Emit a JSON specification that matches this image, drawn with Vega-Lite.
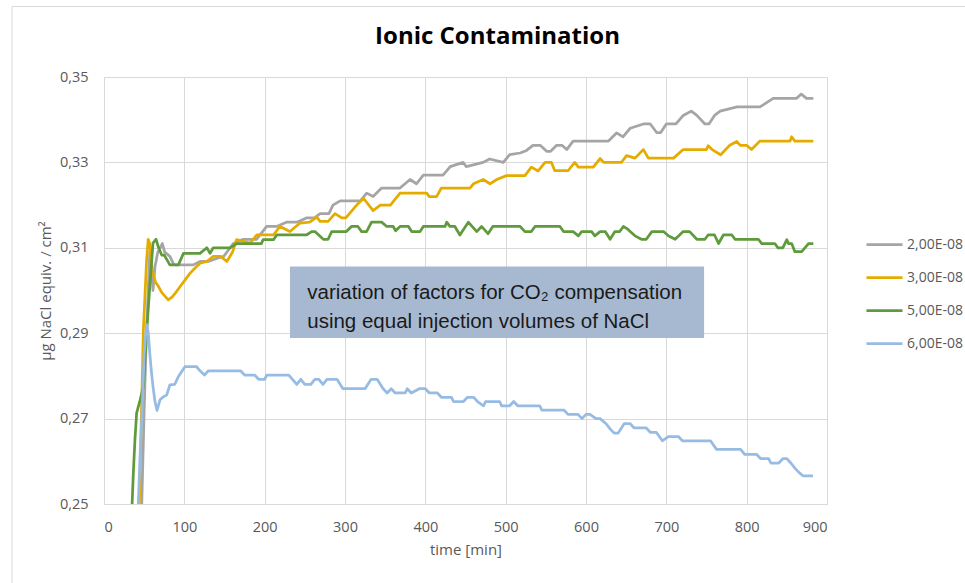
{
"$schema": "https://vega.github.io/schema/vega-lite/v6.json",
"width": 723, "height": 427,
"autosize": {"type": "none"},
"padding": {"left": 104, "top": 77, "right": 138, "bottom": 79},
"background": "white",
"config": {"font": "Open Sans", "view": {"stroke": null}},
"title": {"text": "Ionic Contamination", "font": "Open Sans", "fontSize": 24, "fontWeight": "bold", "color": "#000000", "anchor": "middle", "frame": "group", "dx": 32, "offset": -43},
"datasets": {
"series": [
{"t":44,"v":0.24,"s":"2,00E-08"},{"t":47,"v":0.25,"s":"2,00E-08"},{"t":50,"v":0.272,"s":"2,00E-08"},{"t":53,"v":0.291,"s":"2,00E-08"},{"t":57,"v":0.309,"s":"2,00E-08"},{"t":59,"v":0.306,"s":"2,00E-08"},{"t":61,"v":0.300,"s":"2,00E-08"},{"t":63.5,"v":0.3056,"s":"2,00E-08"},{"t":67,"v":0.309,"s":"2,00E-08"},{"t":72.6,"v":0.311,"s":"2,00E-08"},{"t":75.5,"v":0.309,"s":"2,00E-08"},{"t":82,"v":0.308,"s":"2,00E-08"},{"t":86,"v":0.3064,"s":"2,00E-08"},{"t":88,"v":0.306,"s":"2,00E-08"},{"t":111,"v":0.306,"s":"2,00E-08"},{"t":119.5,"v":0.3068,"s":"2,00E-08"},{"t":130,"v":0.3068,"s":"2,00E-08"},{"t":140,"v":0.3075,"s":"2,00E-08"},{"t":149,"v":0.308,"s":"2,00E-08"},{"t":161,"v":0.311,"s":"2,00E-08"},{"t":173,"v":0.312,"s":"2,00E-08"},{"t":190,"v":0.312,"s":"2,00E-08"},{"t":202.5,"v":0.315,"s":"2,00E-08"},{"t":215,"v":0.315,"s":"2,00E-08"},{"t":227,"v":0.316,"s":"2,00E-08"},{"t":240,"v":0.316,"s":"2,00E-08"},{"t":252,"v":0.317,"s":"2,00E-08"},{"t":262,"v":0.317,"s":"2,00E-08"},{"t":269,"v":0.318,"s":"2,00E-08"},{"t":280,"v":0.318,"s":"2,00E-08"},{"t":285,"v":0.320,"s":"2,00E-08"},{"t":294,"v":0.321,"s":"2,00E-08"},{"t":319,"v":0.321,"s":"2,00E-08"},{"t":327,"v":0.3228,"s":"2,00E-08"},{"t":335,"v":0.322,"s":"2,00E-08"},{"t":345.6,"v":0.324,"s":"2,00E-08"},{"t":368.5,"v":0.324,"s":"2,00E-08"},{"t":381,"v":0.326,"s":"2,00E-08"},{"t":389,"v":0.325,"s":"2,00E-08"},{"t":397.5,"v":0.327,"s":"2,00E-08"},{"t":422,"v":0.327,"s":"2,00E-08"},{"t":431,"v":0.329,"s":"2,00E-08"},{"t":447,"v":0.330,"s":"2,00E-08"},{"t":451,"v":0.329,"s":"2,00E-08"},{"t":472,"v":0.330,"s":"2,00E-08"},{"t":480,"v":0.3308,"s":"2,00E-08"},{"t":497,"v":0.330,"s":"2,00E-08"},{"t":505,"v":0.3318,"s":"2,00E-08"},{"t":518,"v":0.3322,"s":"2,00E-08"},{"t":526,"v":0.3328,"s":"2,00E-08"},{"t":534,"v":0.334,"s":"2,00E-08"},{"t":543,"v":0.334,"s":"2,00E-08"},{"t":551,"v":0.3326,"s":"2,00E-08"},{"t":556,"v":0.3326,"s":"2,00E-08"},{"t":563.5,"v":0.334,"s":"2,00E-08"},{"t":570,"v":0.334,"s":"2,00E-08"},{"t":576,"v":0.333,"s":"2,00E-08"},{"t":584,"v":0.335,"s":"2,00E-08"},{"t":628,"v":0.335,"s":"2,00E-08"},{"t":638,"v":0.3369,"s":"2,00E-08"},{"t":646,"v":0.336,"s":"2,00E-08"},{"t":655,"v":0.338,"s":"2,00E-08"},{"t":671.5,"v":0.339,"s":"2,00E-08"},{"t":680,"v":0.339,"s":"2,00E-08"},{"t":688,"v":0.337,"s":"2,00E-08"},{"t":693,"v":0.337,"s":"2,00E-08"},{"t":700,"v":0.339,"s":"2,00E-08"},{"t":712,"v":0.339,"s":"2,00E-08"},{"t":721,"v":0.341,"s":"2,00E-08"},{"t":731,"v":0.342,"s":"2,00E-08"},{"t":738,"v":0.341,"s":"2,00E-08"},{"t":748,"v":0.339,"s":"2,00E-08"},{"t":753,"v":0.339,"s":"2,00E-08"},{"t":760,"v":0.341,"s":"2,00E-08"},{"t":767,"v":0.342,"s":"2,00E-08"},{"t":788,"v":0.343,"s":"2,00E-08"},{"t":816.6,"v":0.343,"s":"2,00E-08"},{"t":833,"v":0.345,"s":"2,00E-08"},{"t":862,"v":0.345,"s":"2,00E-08"},{"t":868,"v":0.346,"s":"2,00E-08"},{"t":874.5,"v":0.345,"s":"2,00E-08"},{"t":883,"v":0.345,"s":"2,00E-08"},

{"t":42,"v":0.24,"s":"3,00E-08"},{"t":44,"v":0.25,"s":"3,00E-08"},{"t":49,"v":0.2907,"s":"3,00E-08"},{"t":53,"v":0.307,"s":"3,00E-08"},{"t":55,"v":0.312,"s":"3,00E-08"},{"t":57,"v":0.311,"s":"3,00E-08"},{"t":60,"v":0.305,"s":"3,00E-08"},{"t":64,"v":0.302,"s":"3,00E-08"},{"t":67.6,"v":0.301,"s":"3,00E-08"},{"t":72,"v":0.2995,"s":"3,00E-08"},{"t":80,"v":0.2978,"s":"3,00E-08"},{"t":85,"v":0.2985,"s":"3,00E-08"},{"t":90.5,"v":0.2998,"s":"3,00E-08"},{"t":95,"v":0.301,"s":"3,00E-08"},{"t":101,"v":0.3025,"s":"3,00E-08"},{"t":107,"v":0.304,"s":"3,00E-08"},{"t":113,"v":0.3052,"s":"3,00E-08"},{"t":119.5,"v":0.3064,"s":"3,00E-08"},{"t":128,"v":0.3068,"s":"3,00E-08"},{"t":136,"v":0.308,"s":"3,00E-08"},{"t":145,"v":0.308,"s":"3,00E-08"},{"t":153,"v":0.3068,"s":"3,00E-08"},{"t":160,"v":0.309,"s":"3,00E-08"},{"t":165,"v":0.3119,"s":"3,00E-08"},{"t":182,"v":0.3111,"s":"3,00E-08"},{"t":190,"v":0.313,"s":"3,00E-08"},{"t":211,"v":0.313,"s":"3,00E-08"},{"t":219,"v":0.315,"s":"3,00E-08"},{"t":231.5,"v":0.3138,"s":"3,00E-08"},{"t":244,"v":0.3158,"s":"3,00E-08"},{"t":256,"v":0.316,"s":"3,00E-08"},{"t":265,"v":0.3172,"s":"3,00E-08"},{"t":269,"v":0.3162,"s":"3,00E-08"},{"t":279,"v":0.3162,"s":"3,00E-08"},{"t":287.5,"v":0.318,"s":"3,00E-08"},{"t":296,"v":0.317,"s":"3,00E-08"},{"t":301,"v":0.317,"s":"3,00E-08"},{"t":314.5,"v":0.320,"s":"3,00E-08"},{"t":323,"v":0.3216,"s":"3,00E-08"},{"t":335,"v":0.3187,"s":"3,00E-08"},{"t":344,"v":0.320,"s":"3,00E-08"},{"t":356.5,"v":0.320,"s":"3,00E-08"},{"t":368.5,"v":0.3228,"s":"3,00E-08"},{"t":401.7,"v":0.3228,"s":"3,00E-08"},{"t":405,"v":0.322,"s":"3,00E-08"},{"t":414,"v":0.322,"s":"3,00E-08"},{"t":420,"v":0.324,"s":"3,00E-08"},{"t":455.6,"v":0.324,"s":"3,00E-08"},{"t":460,"v":0.325,"s":"3,00E-08"},{"t":472,"v":0.326,"s":"3,00E-08"},{"t":480.5,"v":0.325,"s":"3,00E-08"},{"t":489,"v":0.326,"s":"3,00E-08"},{"t":501,"v":0.3269,"s":"3,00E-08"},{"t":524,"v":0.3269,"s":"3,00E-08"},{"t":532,"v":0.3289,"s":"3,00E-08"},{"t":540.5,"v":0.328,"s":"3,00E-08"},{"t":549,"v":0.330,"s":"3,00E-08"},{"t":557,"v":0.330,"s":"3,00E-08"},{"t":561,"v":0.3281,"s":"3,00E-08"},{"t":578,"v":0.3281,"s":"3,00E-08"},{"t":586,"v":0.330,"s":"3,00E-08"},{"t":590.5,"v":0.3289,"s":"3,00E-08"},{"t":609,"v":0.3289,"s":"3,00E-08"},{"t":617.5,"v":0.3309,"s":"3,00E-08"},{"t":622,"v":0.330,"s":"3,00E-08"},{"t":644,"v":0.330,"s":"3,00E-08"},{"t":650.6,"v":0.3316,"s":"3,00E-08"},{"t":661,"v":0.331,"s":"3,00E-08"},{"t":671.5,"v":0.333,"s":"3,00E-08"},{"t":677.6,"v":0.331,"s":"3,00E-08"},{"t":709,"v":0.331,"s":"3,00E-08"},{"t":721,"v":0.333,"s":"3,00E-08"},{"t":750,"v":0.333,"s":"3,00E-08"},{"t":752,"v":0.3339,"s":"3,00E-08"},{"t":757,"v":0.333,"s":"3,00E-08"},{"t":767.6,"v":0.3318,"s":"3,00E-08"},{"t":779,"v":0.334,"s":"3,00E-08"},{"t":787.6,"v":0.3349,"s":"3,00E-08"},{"t":792,"v":0.334,"s":"3,00E-08"},{"t":800,"v":0.334,"s":"3,00E-08"},{"t":806,"v":0.333,"s":"3,00E-08"},{"t":816.6,"v":0.335,"s":"3,00E-08"},{"t":854,"v":0.335,"s":"3,00E-08"},{"t":856,"v":0.336,"s":"3,00E-08"},{"t":860,"v":0.335,"s":"3,00E-08"},{"t":883,"v":0.335,"s":"3,00E-08"},

{"t":33,"v":0.24,"s":"5,00E-08"},{"t":35,"v":0.25,"s":"5,00E-08"},{"t":36.5,"v":0.2572,"s":"5,00E-08"},{"t":38.5,"v":0.265,"s":"5,00E-08"},{"t":40.6,"v":0.2713,"s":"5,00E-08"},{"t":45,"v":0.2744,"s":"5,00E-08"},{"t":49,"v":0.2775,"s":"5,00E-08"},{"t":51,"v":0.284,"s":"5,00E-08"},{"t":53,"v":0.290,"s":"5,00E-08"},{"t":57,"v":0.3009,"s":"5,00E-08"},{"t":61,"v":0.3111,"s":"5,00E-08"},{"t":64.7,"v":0.312,"s":"5,00E-08"},{"t":68,"v":0.310,"s":"5,00E-08"},{"t":71.8,"v":0.3083,"s":"5,00E-08"},{"t":75,"v":0.3083,"s":"5,00E-08"},{"t":82,"v":0.306,"s":"5,00E-08"},{"t":92.5,"v":0.306,"s":"5,00E-08"},{"t":99,"v":0.3087,"s":"5,00E-08"},{"t":119.5,"v":0.3087,"s":"5,00E-08"},{"t":128,"v":0.310,"s":"5,00E-08"},{"t":132,"v":0.3087,"s":"5,00E-08"},{"t":136,"v":0.310,"s":"5,00E-08"},{"t":157,"v":0.310,"s":"5,00E-08"},{"t":165,"v":0.311,"s":"5,00E-08"},{"t":196,"v":0.311,"s":"5,00E-08"},{"t":198,"v":0.3119,"s":"5,00E-08"},{"t":211,"v":0.3119,"s":"5,00E-08"},{"t":215,"v":0.313,"s":"5,00E-08"},{"t":252,"v":0.313,"s":"5,00E-08"},{"t":258.5,"v":0.3138,"s":"5,00E-08"},{"t":262.6,"v":0.3138,"s":"5,00E-08"},{"t":273,"v":0.312,"s":"5,00E-08"},{"t":279,"v":0.312,"s":"5,00E-08"},{"t":283.4,"v":0.3138,"s":"5,00E-08"},{"t":301.7,"v":0.3138,"s":"5,00E-08"},{"t":308,"v":0.315,"s":"5,00E-08"},{"t":316,"v":0.315,"s":"5,00E-08"},{"t":320.7,"v":0.3138,"s":"5,00E-08"},{"t":326.9,"v":0.3138,"s":"5,00E-08"},{"t":333,"v":0.316,"s":"5,00E-08"},{"t":345.6,"v":0.316,"s":"5,00E-08"},{"t":352,"v":0.315,"s":"5,00E-08"},{"t":360,"v":0.315,"s":"5,00E-08"},{"t":363,"v":0.314,"s":"5,00E-08"},{"t":368.5,"v":0.315,"s":"5,00E-08"},{"t":379,"v":0.315,"s":"5,00E-08"},{"t":383,"v":0.3138,"s":"5,00E-08"},{"t":393.4,"v":0.3138,"s":"5,00E-08"},{"t":397.5,"v":0.315,"s":"5,00E-08"},{"t":424.5,"v":0.315,"s":"5,00E-08"},{"t":426.6,"v":0.316,"s":"5,00E-08"},{"t":430.6,"v":0.315,"s":"5,00E-08"},{"t":436.8,"v":0.315,"s":"5,00E-08"},{"t":443,"v":0.313,"s":"5,00E-08"},{"t":453.5,"v":0.316,"s":"5,00E-08"},{"t":464,"v":0.3138,"s":"5,00E-08"},{"t":470,"v":0.315,"s":"5,00E-08"},{"t":478,"v":0.3133,"s":"5,00E-08"},{"t":484,"v":0.315,"s":"5,00E-08"},{"t":518,"v":0.315,"s":"5,00E-08"},{"t":524,"v":0.3138,"s":"5,00E-08"},{"t":532,"v":0.3138,"s":"5,00E-08"},{"t":536.5,"v":0.315,"s":"5,00E-08"},{"t":567.6,"v":0.315,"s":"5,00E-08"},{"t":572,"v":0.3138,"s":"5,00E-08"},{"t":584,"v":0.3138,"s":"5,00E-08"},{"t":590.5,"v":0.3128,"s":"5,00E-08"},{"t":594.6,"v":0.3138,"s":"5,00E-08"},{"t":607,"v":0.3138,"s":"5,00E-08"},{"t":611,"v":0.3128,"s":"5,00E-08"},{"t":617.5,"v":0.3138,"s":"5,00E-08"},{"t":624,"v":0.3138,"s":"5,00E-08"},{"t":630,"v":0.312,"s":"5,00E-08"},{"t":636,"v":0.3138,"s":"5,00E-08"},{"t":642,"v":0.3138,"s":"5,00E-08"},{"t":646.5,"v":0.315,"s":"5,00E-08"},{"t":651,"v":0.3145,"s":"5,00E-08"},{"t":655,"v":0.3138,"s":"5,00E-08"},{"t":661,"v":0.3128,"s":"5,00E-08"},{"t":669,"v":0.312,"s":"5,00E-08"},{"t":675,"v":0.312,"s":"5,00E-08"},{"t":682,"v":0.3138,"s":"5,00E-08"},{"t":696.5,"v":0.3138,"s":"5,00E-08"},{"t":702.5,"v":0.3128,"s":"5,00E-08"},{"t":711,"v":0.312,"s":"5,00E-08"},{"t":721,"v":0.3138,"s":"5,00E-08"},{"t":729,"v":0.3138,"s":"5,00E-08"},{"t":738,"v":0.312,"s":"5,00E-08"},{"t":748,"v":0.312,"s":"5,00E-08"},{"t":752,"v":0.313,"s":"5,00E-08"},{"t":760,"v":0.313,"s":"5,00E-08"},{"t":765,"v":0.311,"s":"5,00E-08"},{"t":771,"v":0.313,"s":"5,00E-08"},{"t":781.6,"v":0.313,"s":"5,00E-08"},{"t":785.5,"v":0.312,"s":"5,00E-08"},{"t":814.6,"v":0.312,"s":"5,00E-08"},{"t":818.8,"v":0.311,"s":"5,00E-08"},{"t":835,"v":0.311,"s":"5,00E-08"},{"t":839,"v":0.310,"s":"5,00E-08"},{"t":845,"v":0.310,"s":"5,00E-08"},{"t":850,"v":0.3119,"s":"5,00E-08"},{"t":852,"v":0.311,"s":"5,00E-08"},{"t":856,"v":0.311,"s":"5,00E-08"},{"t":860,"v":0.3091,"s":"5,00E-08"},{"t":868.5,"v":0.3091,"s":"5,00E-08"},{"t":877,"v":0.311,"s":"5,00E-08"},{"t":883,"v":0.311,"s":"5,00E-08"},

{"t":41,"v":0.24,"s":"6,00E-08"},{"t":42.7,"v":0.25,"s":"6,00E-08"},{"t":45,"v":0.262,"s":"6,00E-08"},{"t":47,"v":0.2697,"s":"6,00E-08"},{"t":50,"v":0.2853,"s":"6,00E-08"},{"t":53,"v":0.292,"s":"6,00E-08"},{"t":55,"v":0.2903,"s":"6,00E-08"},{"t":57,"v":0.2853,"s":"6,00E-08"},{"t":59,"v":0.281,"s":"6,00E-08"},{"t":61,"v":0.2775,"s":"6,00E-08"},{"t":63.5,"v":0.274,"s":"6,00E-08"},{"t":66,"v":0.2719,"s":"6,00E-08"},{"t":69.7,"v":0.2744,"s":"6,00E-08"},{"t":74,"v":0.2751,"s":"6,00E-08"},{"t":78,"v":0.2755,"s":"6,00E-08"},{"t":82,"v":0.2779,"s":"6,00E-08"},{"t":88,"v":0.278,"s":"6,00E-08"},{"t":92.5,"v":0.2798,"s":"6,00E-08"},{"t":96.7,"v":0.281,"s":"6,00E-08"},{"t":101,"v":0.2822,"s":"6,00E-08"},{"t":115,"v":0.2822,"s":"6,00E-08"},{"t":119.5,"v":0.2812,"s":"6,00E-08"},{"t":125,"v":0.2802,"s":"6,00E-08"},{"t":130,"v":0.2812,"s":"6,00E-08"},{"t":170,"v":0.2812,"s":"6,00E-08"},{"t":175,"v":0.2802,"s":"6,00E-08"},{"t":187.5,"v":0.2802,"s":"6,00E-08"},{"t":192.5,"v":0.2792,"s":"6,00E-08"},{"t":200,"v":0.2792,"s":"6,00E-08"},{"t":202.5,"v":0.2802,"s":"6,00E-08"},{"t":230,"v":0.2802,"s":"6,00E-08"},{"t":240,"v":0.278,"s":"6,00E-08"},{"t":245,"v":0.2792,"s":"6,00E-08"},{"t":250,"v":0.278,"s":"6,00E-08"},{"t":257.5,"v":0.278,"s":"6,00E-08"},{"t":262.5,"v":0.2792,"s":"6,00E-08"},{"t":267.5,"v":0.2792,"s":"6,00E-08"},{"t":272.5,"v":0.278,"s":"6,00E-08"},{"t":277.5,"v":0.2792,"s":"6,00E-08"},{"t":290,"v":0.2792,"s":"6,00E-08"},{"t":297.5,"v":0.277,"s":"6,00E-08"},{"t":325,"v":0.277,"s":"6,00E-08"},{"t":332.5,"v":0.2792,"s":"6,00E-08"},{"t":340,"v":0.2792,"s":"6,00E-08"},{"t":347.5,"v":0.277,"s":"6,00E-08"},{"t":352.5,"v":0.276,"s":"6,00E-08"},{"t":357.5,"v":0.277,"s":"6,00E-08"},{"t":362.5,"v":0.276,"s":"6,00E-08"},{"t":375,"v":0.276,"s":"6,00E-08"},{"t":377.5,"v":0.277,"s":"6,00E-08"},{"t":382.5,"v":0.276,"s":"6,00E-08"},{"t":392.5,"v":0.277,"s":"6,00E-08"},{"t":400,"v":0.277,"s":"6,00E-08"},{"t":405,"v":0.276,"s":"6,00E-08"},{"t":415,"v":0.276,"s":"6,00E-08"},{"t":420,"v":0.275,"s":"6,00E-08"},{"t":432.5,"v":0.275,"s":"6,00E-08"},{"t":435,"v":0.274,"s":"6,00E-08"},{"t":447.5,"v":0.274,"s":"6,00E-08"},{"t":452.5,"v":0.275,"s":"6,00E-08"},{"t":460,"v":0.275,"s":"6,00E-08"},{"t":465,"v":0.274,"s":"6,00E-08"},{"t":472.5,"v":0.273,"s":"6,00E-08"},{"t":475,"v":0.274,"s":"6,00E-08"},{"t":492.5,"v":0.274,"s":"6,00E-08"},{"t":495,"v":0.273,"s":"6,00E-08"},{"t":505,"v":0.273,"s":"6,00E-08"},{"t":510,"v":0.274,"s":"6,00E-08"},{"t":515,"v":0.273,"s":"6,00E-08"},{"t":542.5,"v":0.273,"s":"6,00E-08"},{"t":545,"v":0.272,"s":"6,00E-08"},{"t":572.5,"v":0.272,"s":"6,00E-08"},{"t":577.5,"v":0.271,"s":"6,00E-08"},{"t":590,"v":0.271,"s":"6,00E-08"},{"t":595,"v":0.27,"s":"6,00E-08"},{"t":600,"v":0.271,"s":"6,00E-08"},{"t":605,"v":0.271,"s":"6,00E-08"},{"t":612.5,"v":0.27,"s":"6,00E-08"},{"t":617.5,"v":0.27,"s":"6,00E-08"},{"t":625,"v":0.2688,"s":"6,00E-08"},{"t":630,"v":0.2676,"s":"6,00E-08"},{"t":635,"v":0.2666,"s":"6,00E-08"},{"t":640,"v":0.2666,"s":"6,00E-08"},{"t":647.5,"v":0.2688,"s":"6,00E-08"},{"t":655,"v":0.2688,"s":"6,00E-08"},{"t":660,"v":0.2678,"s":"6,00E-08"},{"t":675,"v":0.2678,"s":"6,00E-08"},{"t":680,"v":0.2668,"s":"6,00E-08"},{"t":687.5,"v":0.2668,"s":"6,00E-08"},{"t":695,"v":0.2648,"s":"6,00E-08"},{"t":702.5,"v":0.2658,"s":"6,00E-08"},{"t":715,"v":0.2658,"s":"6,00E-08"},{"t":720,"v":0.2648,"s":"6,00E-08"},{"t":755,"v":0.2648,"s":"6,00E-08"},{"t":762.5,"v":0.2628,"s":"6,00E-08"},{"t":792.5,"v":0.2628,"s":"6,00E-08"},{"t":797.5,"v":0.2616,"s":"6,00E-08"},{"t":812.5,"v":0.2616,"s":"6,00E-08"},{"t":817.5,"v":0.2606,"s":"6,00E-08"},{"t":827.5,"v":0.2606,"s":"6,00E-08"},{"t":830,"v":0.2596,"s":"6,00E-08"},{"t":840,"v":0.2596,"s":"6,00E-08"},{"t":845,"v":0.2606,"s":"6,00E-08"},{"t":850,"v":0.2606,"s":"6,00E-08"},{"t":855,"v":0.2596,"s":"6,00E-08"},{"t":860,"v":0.2584,"s":"6,00E-08"},{"t":865,"v":0.2574,"s":"6,00E-08"},{"t":870,"v":0.2566,"s":"6,00E-08"},{"t":882.5,"v":0.2566,"s":"6,00E-08"}
],
"note": [{"lines": ["variation of factors for CO₂ compensation", "using equal injection volumes of NaCl"]}]
},
"layer": [
{
"data": {"name": "note"},
"mark": {"type": "rect", "fill": null, "stroke": "#d9d9d9", "strokeWidth": 1, "clip": false},
"encoding": {
"x": {"datum": -114.5, "type": "quantitative"},
"x2": {"datum": 1300},
"y": {"datum": 0.3665, "type": "quantitative"},
"y2": {"datum": 0.2}
}
},
{
"data": {"name": "series"},
"mark": {"type": "line", "strokeWidth": 2.75, "clip": true, "strokeJoin": "round"},
"encoding": {
"x": {"field": "t", "type": "quantitative",
 "scale": {"domain": [0, 900], "nice": false, "zero": false},
 "axis": {"values": [0,100,200,300,400,500,600,700,800,900], "grid": true, "gridColor": "#d9d9d9", "gridWidth": 1, "domainColor": "#d9d9d9", "ticks": false, "labelColor": "#595959", "labelFontSize": 14.5, "labelPadding": 16, "labelFont": "Open Sans", "title": "time [min]", "titleColor": "#595959", "titleFontSize": 15, "titleFontWeight": "normal", "titleFont": "Open Sans", "titlePadding": 9}},
"y": {"field": "v", "type": "quantitative",
 "scale": {"domain": [0.25, 0.35], "nice": false, "zero": false},
 "axis": {"values": [0.25,0.27,0.29,0.31,0.33,0.35], "labelExpr": "replace(format(datum.value, '.2f'), '.', ',')", "grid": true, "gridColor": "#d9d9d9", "gridWidth": 1, "domainColor": "#d9d9d9", "ticks": false, "labelColor": "#595959", "labelFontSize": 14.5, "labelPadding": 16, "labelFont": "Open Sans", "title": "µg NaCl equiv. / cm²", "titleColor": "#595959", "titleFontSize": 15, "titleFontWeight": "normal", "titleFont": "Open Sans", "titlePadding": 6}},
"color": {"field": "s", "type": "nominal",
 "scale": {"domain": ["2,00E-08","3,00E-08","5,00E-08","6,00E-08"], "range": ["#a5a5a5","#e5ac00","#5f9b3c","#97bce3"]},
 "legend": {"title": null, "orient": "none", "legendX": 761, "legendY": 148, "symbolType": "stroke", "symbolStrokeWidth": 2.75, "symbolSize": 1300, "labelFontSize": 14, "labelColor": "#595959", "labelFont": "Open Sans", "rowPadding": 6, "labelOffset": 3}}
}
},
{
"data": {"name": "note"},
"mark": {"type": "rect", "color": "#a7b9d1"},
"encoding": {
"x": {"datum": 231.5, "type": "quantitative"},
"x2": {"datum": 747},
"y": {"datum": 0.3056, "type": "quantitative"},
"y2": {"datum": 0.2889}
}
},
{
"data": {"name": "note"},
"mark": {"type": "text", "align": "left", "baseline": "middle", "font": "Liberation Sans", "fontSize": 20.5, "lineHeight": 29, "color": "#1a1a1a"},
"encoding": {
"x": {"datum": 253, "type": "quantitative"},
"y": {"datum": 0.2994, "type": "quantitative"},
"text": {"field": "lines"}
}
}
]
}
